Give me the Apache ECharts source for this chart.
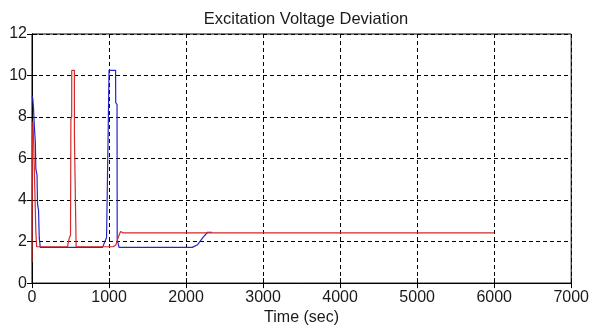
<!DOCTYPE html>
<html>
<head>
<meta charset="utf-8">
<script src="https://cdn.jsdelivr.net/npm/echarts@6/dist/echarts.min.js"></script>
<style>html,body{margin:0;padding:0;background:#fff}#c{width:592px;height:331px}</style>
</head>
<body>
<div id="c"></div>
<script>
var titleText = 'Excitation Voltage Deviation';
var xName = 'Time (sec)';
var xTicks = [0, 1000, 2000, 3000, 4000, 5000, 6000, 7000];
var yTicks = [0, 2, 4, 6, 8, 10, 12];

var blueT = [0, 10, 20, 30, 43, 50, 65, 72, 85, 94, 107, 916, 968, 985, 990, 1000, 1085, 1087, 1104, 1106, 1130, 2080, 2150, 2220, 2280, 2340];
var blueV = [9.0, 8.9, 8.4, 7.6, 6.8, 5.5, 5.2, 3.8, 3.5, 2.2, 1.72, 1.72, 2.2, 2.2, 7.6, 10.25, 10.25, 8.7, 8.6, 2.1, 1.72, 1.72, 1.85, 2.2, 2.45, 2.45];

var redT = [0, 5, 12, 20, 30, 40, 50, 60, 460, 486, 500, 505, 515, 516, 550, 551, 572, 573, 1054, 1090, 1119, 1150, 1180, 6000];
var redV = [1.0, 6.8, 7.8, 7.0, 5.5, 4.0, 2.5, 1.75, 1.75, 2.2, 2.3, 7.9, 8.0, 10.25, 10.25, 7.0, 7.0, 1.75, 1.75, 1.85, 2.2, 2.49, 2.42, 2.42];

function zip(a, b) { return a.map(function (v, i) { return [v, b[i]]; }); }

var font = 'Arial, "Liberation Sans", sans-serif';
var chart = echarts.init(document.getElementById('c'));
var axisCommon = {
  axisLine: { show: true, lineStyle: { color: '#000', width: 1 } },
  axisTick: { show: true, inside: true, length: 5, lineStyle: { color: '#000' } }
};
chart.setOption({
  animation: false,
  backgroundColor: '#fff',
  title: {
    text: titleText, left: 301, top: 6, textAlign: 'center',
    textStyle: { fontFamily: font, fontSize: 16.5, fontWeight: 'normal', color: '#1a1a1a' }
  },
  grid: { left: 32, right: 19, top: 34, bottom: 46, show: true, borderColor: '#000', borderWidth: 1 },
  xAxis: [
    Object.assign({
      type: 'value', min: xTicks[0], max: xTicks[xTicks.length - 1], interval: 1000,
      name: xName, nameLocation: 'middle', nameGap: 23,
      nameTextStyle: { fontFamily: font, fontSize: 16, color: '#1a1a1a' },
      axisLabel: { fontFamily: font, fontSize: 16, color: '#1a1a1a', margin: 6, formatter: function (v) { return String(v); } },
      splitLine: { show: true, lineStyle: { color: '#000', type: [4, 3], width: 1 } }
    }, axisCommon),
    Object.assign({
      type: 'value', position: 'top', min: 0, max: 7000, interval: 1000,
      axisLabel: { show: false }, splitLine: { show: false }
    }, axisCommon)
  ],
  yAxis: [
    Object.assign({
      type: 'value', min: yTicks[0], max: yTicks[yTicks.length - 1], interval: 2,
      axisLabel: { fontFamily: font, fontSize: 16, color: '#1a1a1a', margin: 5 },
      splitLine: { show: true, lineStyle: { color: '#000', type: [4, 3], width: 1 } }
    }, axisCommon),
    Object.assign({
      type: 'value', position: 'right', min: 0, max: 12, interval: 2,
      axisLabel: { show: false }, splitLine: { show: false }
    }, axisCommon)
  ],
  series: [
    { type: 'line', data: zip(blueT, blueV), showSymbol: false, lineStyle: { color: '#2424c8', width: 1.2 }, z: 3 },
    { type: 'line', data: zip(redT, redV), showSymbol: false, lineStyle: { color: '#d42a2a', width: 1.2 }, z: 4 }
  ]
});
</script>
</body>
</html>
